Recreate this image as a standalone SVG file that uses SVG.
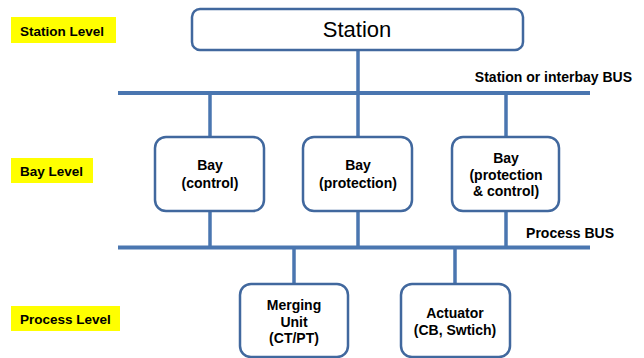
<svg xmlns="http://www.w3.org/2000/svg" width="644" height="358" viewBox="0 0 644 358">
  <style>
    .bus { stroke: #4a76b0; stroke-width: 4; fill: none; }
    .drop { stroke: #4a76b0; stroke-width: 3.5; fill: none; }
    .box { fill: #ffffff; stroke: #41689e; stroke-width: 2.5; }
    .lvl { fill: #ffff00; }
    .t { font-family: "Liberation Sans", Arial, sans-serif; font-size: 14px; font-weight: bold; fill: #000; text-anchor: middle; }
    .lt { font-family: "Liberation Sans", Arial, sans-serif; font-size: 13.5px; font-weight: bold; fill: #000; }
    .bt { font-family: "Liberation Sans", Arial, sans-serif; font-size: 14px; font-weight: bold; fill: #000; }
    .st { font-family: "Liberation Sans", Arial, sans-serif; font-size: 22px; fill: #000; text-anchor: middle; }
  </style>
  <rect width="644" height="358" fill="#ffffff"/>

  <!-- level labels -->
  <g id="level-station">
    <rect class="lvl" x="11" y="17" width="105" height="26"/>
    <text class="lt" x="20" y="35.5">Station Level</text>
  </g>
  <g id="level-bay">
    <rect class="lvl" x="11" y="158" width="82" height="25"/>
    <text class="lt" x="20" y="176">Bay Level</text>
  </g>
  <g id="level-process">
    <rect class="lvl" x="11" y="306" width="109" height="25"/>
    <text class="lt" x="20" y="323.5">Process Level</text>
  </g>

  <!-- buses and connectors -->
  <g id="connectors">
    <line class="bus" x1="118" y1="93" x2="590" y2="93"/>
    <line class="bus" x1="118" y1="247.5" x2="590" y2="247.5"/>
    <line class="drop" x1="358" y1="50" x2="358" y2="93"/>
    <line class="drop" x1="210" y1="93" x2="210" y2="137"/>
    <line class="drop" x1="358" y1="93" x2="358" y2="137"/>
    <line class="drop" x1="506" y1="93" x2="506" y2="137"/>
    <line class="drop" x1="210" y1="211" x2="210" y2="247.5"/>
    <line class="drop" x1="358" y1="211" x2="358" y2="247.5"/>
    <line class="drop" x1="506" y1="211" x2="506" y2="247.5"/>
    <line class="drop" x1="294" y1="247.5" x2="294" y2="284"/>
    <line class="drop" x1="455" y1="247.5" x2="455" y2="284"/>
  </g>

  <!-- bus labels -->
  <text class="bt" x="632" y="81.5" text-anchor="end">Station or interbay BUS</text>
  <text class="bt" x="614" y="237.5" text-anchor="end">Process BUS</text>

  <!-- nodes -->
  <g id="station">
    <rect class="box" x="192" y="9" width="331" height="41" rx="8"/>
    <text class="st" x="357" y="37">Station</text>
  </g>
  <g id="bay-control">
    <rect class="box" x="155" y="137" width="109" height="74" rx="11"/>
    <text class="t" x="210" y="170">Bay</text>
    <text class="t" x="210" y="188">(control)</text>
  </g>
  <g id="bay-protection">
    <rect class="box" x="303" y="137" width="109" height="74" rx="11"/>
    <text class="t" x="358" y="170">Bay</text>
    <text class="t" x="358" y="188">(protection)</text>
  </g>
  <g id="bay-protection-control">
    <rect class="box" x="452" y="137" width="107" height="74" rx="11"/>
    <text class="t" x="506" y="163">Bay</text>
    <text class="t" x="506" y="179.5">(protection</text>
    <text class="t" x="506" y="196">&amp; control)</text>
  </g>
  <g id="merging-unit">
    <rect class="box" x="240" y="284" width="108" height="73" rx="11"/>
    <text class="t" x="294" y="310">Merging</text>
    <text class="t" x="294" y="326.5">Unit</text>
    <text class="t" x="294" y="343">(CT/PT)</text>
  </g>
  <g id="actuator">
    <rect class="box" x="401" y="284" width="109" height="73" rx="11"/>
    <text class="t" x="455" y="318">Actuator</text>
    <text class="t" x="455" y="335">(CB, Swtich)</text>
  </g>
</svg>
